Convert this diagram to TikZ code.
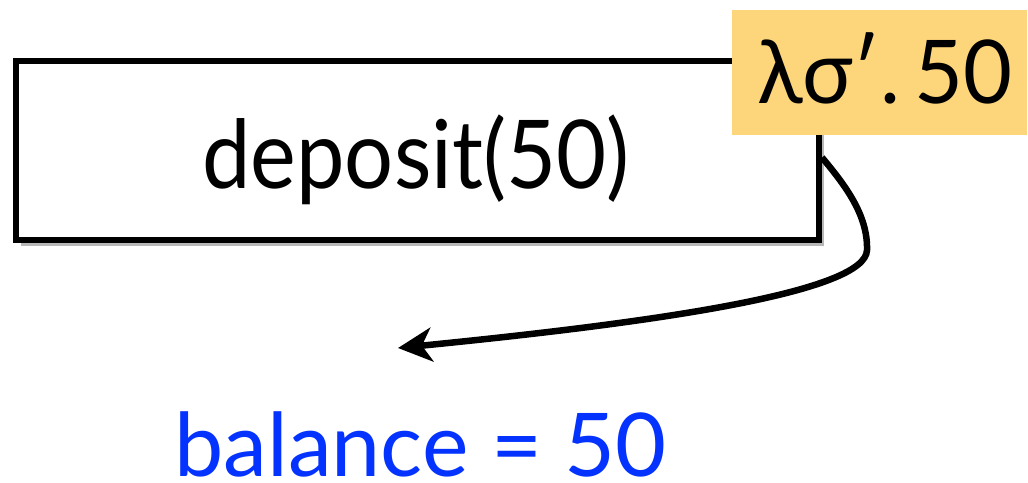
\documentclass[tikz,border=0pt]{standalone}
\usepackage{fontspec}
\setmainfont{Lato}
\usetikzlibrary{arrows.meta,shadows}
\definecolor{lamyellow}{RGB}{253,213,122}
\definecolor{balblue}{RGB}{4,51,255}
\begin{document}
\begin{tikzpicture}[x=1pt,y=-1pt,
  mainbox/.style={draw=black,line width=6pt,fill=white,
    drop shadow={shadow xshift=5pt,shadow yshift=-6pt,opacity=0.4,fill=black!70}},
  bigtext/.style={font=\fontsize{95}{100}\selectfont,inner sep=0pt,text depth=0pt},
  midtext/.style={font=\fontsize{88}{92}\selectfont,inner sep=0pt,text depth=0pt},
  conn/.style={line width=6.5pt,-{Stealth[length=34pt,width=34pt,inset=10pt]}}
]
\useasboundingbox (0,0) rectangle (1028,482);
\fill[white] (0,0) rectangle (1028,482);
\node[mainbox,minimum width=803pt,minimum height=179pt,inner sep=0pt] (box) at (417.5,150.5) {};
\node[bigtext,anchor=base] (dep) at (416,188) {\scalebox{0.91}[1]{deposit(50)}};
\node[fill=lamyellow,minimum width=295pt,minimum height=125pt,inner sep=0pt] (lamb) at (879.5,72.5) {};
\node[midtext,anchor=base] (lam) at (885,103) {\scalebox{0.96}[1]{λσ′.\,50}};
\coordinate (tgt) at (398,348);
\draw[conn] ([yshift=-7pt]box.east) .. controls (845,185) and (868,215) .. (867,250)
  .. controls (866,292) and (660,322) .. (tgt);
\node[midtext,anchor=base,text=balblue] (bal) at (420.5,476) {balance = 50};
\end{tikzpicture}
\end{document}
